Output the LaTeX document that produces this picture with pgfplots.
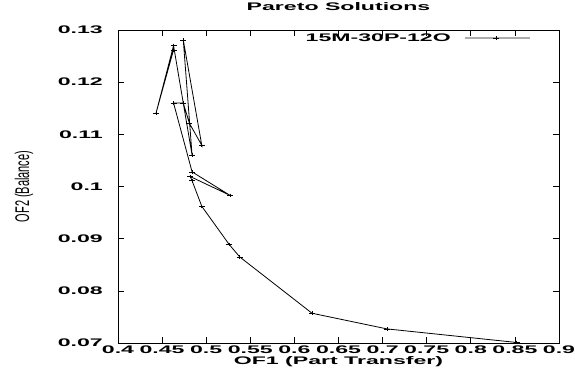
\documentclass[border=0pt]{standalone}
\usepackage{fontspec}
\setmainfont{Liberation Sans}
\newfontfamily\gpfont[FakeStretch=2.1]{Liberation Sans}
\usepackage{graphicx}
\usepackage{pgfplots}
\pgfplotsset{compat=1.18}

\begin{document}
\begin{tikzpicture}
\begin{axis}[
  name=ax,
  scale only axis,
  width=441pt, height=313pt,
  xmin=0.4, xmax=0.9, ymin=0.07, ymax=0.13,
  xtick={0.4,0.45,0.5,0.55,0.6,0.65,0.7,0.75,0.8,0.85,0.9},
  xticklabels={0.4,0.45,0.5,0.55,0.6,0.65,0.7,0.75,0.8,0.85,0.9},
  ytick={0.07,0.08,0.09,0.1,0.11,0.12,0.13},
  yticklabels={0.07,0.08,0.09,0.1,0.11,0.12,0.13},
  tick align=inside,
  major tick length=6pt,
  tick style={black, line width=0.6pt},
  axis line style={line width=0.9pt},
  ticklabel style={font=\gpfont\bfseries\fontsize{11pt}{13pt}\selectfont},
  xticklabel style={inner sep=0pt, yshift=-3pt},
  yticklabel style={inner sep=0pt, xshift=-15pt},
  title={Pareto Solutions},
  title style={font=\gpfont\bfseries\fontsize{11pt}{13pt}\selectfont, at={(axis description cs:0.5,1.0543)}, anchor=center},
  xlabel={OF1 (Part Transfer)},
  xlabel style={font=\gpfont\bfseries\fontsize{11pt}{13pt}\selectfont, at={(axis description cs:0.5,-0.0607)}, anchor=center},
  ylabel={\scalebox{1}[1.8]{OF2 (Balance)}},
  ylabel style={font=\fontsize{11pt}{13pt}\selectfont, at={(axis description cs:-0.2132,0.5)}, anchor=center},
  legend plot pos=right,
  legend cell align=right,
  legend style={draw=none, fill=none, inner sep=0pt,
    font=\gpfont\bfseries\fontsize{11pt}{13pt}\selectfont,
    at={(axis description cs:0.9365,0.9744)}, anchor=east},
  legend image code/.code={
    \path (0pt,0pt);
    \draw[gray!65, line width=1.2pt] (12pt,0pt) -- (77pt,0pt);
    \draw[black, line width=0.7pt] (43pt,-1.8pt) -- (43pt,1.8pt) (40pt,0pt) -- (46pt,0pt);
  },
]
\addplot[black, line width=0.8pt, mark=+, mark size=3pt, mark options={line width=0.6pt, yscale=0.6}] coordinates {
  (0.463,0.1262)
  (0.443,0.1140)
  (0.463,0.1270)
  (0.484,0.1060)
  (0.474,0.1281)
  (0.495,0.1079)
  (0.481,0.1121)
  (0.474,0.1160)
  (0.463,0.1160)
  (0.484,0.1028)
  (0.527,0.0983)
  (0.482,0.1019)
  (0.484,0.1011)
  (0.495,0.0962)
  (0.526,0.0889)
  (0.538,0.0865)
  (0.620,0.0757)
  (0.705,0.0727)
  (0.852,0.0701)
};
\addlegendentry{15M-30P-12O}
\end{axis}
\pgfresetboundingbox
\path ([shift={(-118pt,-37pt)}]ax.south west) rectangle ([shift={(16pt,30pt)}]ax.north east);
\end{tikzpicture}
\end{document}
